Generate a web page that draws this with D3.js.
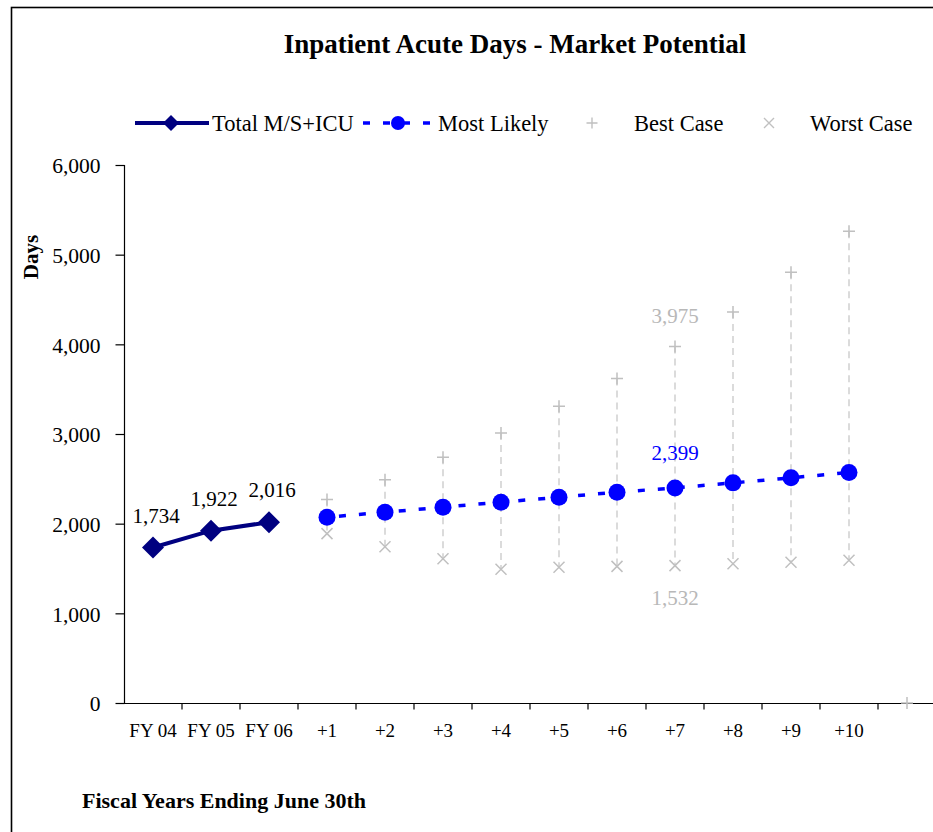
<!DOCTYPE html>
<html>
<head>
<meta charset="utf-8">
<script src="https://cdn.jsdelivr.net/npm/d3@7"></script>
<style>
  html, body { margin: 0; padding: 0; background: #fff; }
  svg { display: block; }
  text { font-family: "Liberation Serif", "Times New Roman", serif; }
</style>
</head>
<body>
<svg id="chart" width="933" height="832"></svg>
<script>
// Inpatient acute days: history plus ten-year projection range
const categories = ["FY 04", "FY 05", "FY 06", "+1", "+2", "+3", "+4", "+5", "+6", "+7", "+8", "+9", "+10", ""];
const totalDays  = [1734, 1922, 2016, null, null, null, null, null, null, null, null, null, null, null];
const mostLikely = [null, null, null, 2072, 2128, 2184, 2240, 2295, 2351, 2399, 2455, 2511, 2571, null];
const bestCase   = [null, null, null, 2270, 2490, 2740, 3010, 3310, 3620, 3975, 4360, 4805, 5260, 0];
const worstCase  = [null, null, null, 1889, 1742, 1609, 1491, 1513, 1524, 1532, 1554, 1569, 1591, null];
const yTicks = [0, 1000, 2000, 3000, 4000, 5000, 6000];

// category indices that carry a value label
const labelledTotal = [0, 1, 2];
const labelledLikely = [9];
const labelledBest = [9];
const labelledWorst = [9];

const NAVY = "#000080", BLUE = "#0000ff", GREY = "#c0c0c0";
const fmt = d3.format(",");

const svg = d3.select("#chart");

// outer frame
svg.append("rect")
  .attr("x", 11.5).attr("y", 7.5)
  .attr("width", 940).attr("height", 840)
  .attr("fill", "none").attr("stroke", "#000").attr("stroke-width", 1.6);

const x = d3.scaleBand().domain(d3.range(categories.length)).range([124, 936]).padding(0);
const y = d3.scaleLinear().domain([0, 6000]).range([703, 165]);
const cx = i => x(i) + x.bandwidth() / 2;

// title
svg.append("text")
  .attr("x", 515).attr("y", 53)
  .attr("text-anchor", "middle")
  .attr("font-size", 27).attr("font-weight", "bold")
  .text("Inpatient Acute Days - Market Potential");

// y axis
const yAxis = svg.append("g")
  .attr("transform", "translate(124.5,0)")
  .call(d3.axisLeft(y).tickValues(yTicks).tickSize(9).tickPadding(15).tickFormat(fmt));
yAxis.selectAll("path, line").attr("stroke", "#000").attr("stroke-width", 1.2);
yAxis.select(".domain").attr("d", `M0,${y(6000)}V${y(0)}`);
yAxis.selectAll("text")
  .attr("font-family", "Liberation Serif, Times New Roman, serif")
  .attr("font-size", 21.5).attr("fill", "#000").attr("dy", "0.36em");

// x axis with ticks on category boundaries
const xAxis = svg.append("g").attr("transform", `translate(0,${y(0) + 0.5})`);
xAxis.append("line")
  .attr("x1", 124).attr("x2", 936).attr("stroke", "#000").attr("stroke-width", 1.2);
xAxis.selectAll("line.tick")
  .data(d3.range(1, categories.length + 1))
  .join("line").attr("class", "tick")
  .attr("x1", i => x(i - 1) + x.bandwidth()).attr("x2", i => x(i - 1) + x.bandwidth())
  .attr("y1", 0).attr("y2", 6)
  .attr("stroke", "#000").attr("stroke-width", 1.2);
xAxis.selectAll("text")
  .data(categories)
  .join("text")
  .attr("x", (d, i) => cx(i)).attr("y", 33)
  .attr("text-anchor", "middle").attr("font-size", 19)
  .text(d => d);

// axis titles
svg.append("text")
  .attr("transform", "translate(38,257) rotate(-90)")
  .attr("text-anchor", "middle").attr("font-size", 21).attr("font-weight", "bold")
  .text("Days");
svg.append("text")
  .attr("x", 82).attr("y", 808)
  .attr("font-size", 22).attr("font-weight", "bold")
  .text("Fiscal Years Ending June 30th");

// high-low lines between best and worst case
const plot = svg.append("g");
plot.selectAll("line.hilo")
  .data(d3.range(categories.length).filter(i => bestCase[i] != null && worstCase[i] != null))
  .join("line").attr("class", "hilo")
  .attr("x1", cx).attr("x2", cx)
  .attr("y1", i => y(bestCase[i])).attr("y2", i => y(worstCase[i]))
  .attr("stroke", "#c8c8c8").attr("stroke-width", 1.3).attr("stroke-dasharray", "7,5");

// marker helpers
const plusPath = s => `M${-s},0H${s}M0,${-s}V${s}`;
const crossPath = s => `M${-s},${-s}L${s},${s}M${-s},${s}L${s},${-s}`;
const diamondPath = s => `M0,${-s}L${s},0L0,${s}L${-s},0Z`;

// best case (+) and worst case (x)
plot.selectAll("path.best")
  .data(d3.range(categories.length).filter(i => bestCase[i] != null))
  .join("path").attr("class", "best")
  .attr("transform", i => `translate(${cx(i)},${y(bestCase[i])})`)
  .attr("d", plusPath(6)).attr("stroke", GREY).attr("stroke-width", 1.5).attr("fill", "none");
plot.selectAll("path.worst")
  .data(d3.range(categories.length).filter(i => worstCase[i] != null))
  .join("path").attr("class", "worst")
  .attr("transform", i => `translate(${cx(i)},${y(worstCase[i])})`)
  .attr("d", crossPath(5.5)).attr("stroke", GREY).attr("stroke-width", 1.5).attr("fill", "none");

// most likely projection
const lineGen = d3.line().defined(i => mostLikely[i] != null).x(cx).y(i => y(mostLikely[i]));
plot.append("path")
  .datum(d3.range(categories.length))
  .attr("d", lineGen)
  .attr("fill", "none").attr("stroke", BLUE).attr("stroke-width", 3.5)
  .attr("stroke-dasharray", "7,13").attr("stroke-dashoffset", -12);
plot.selectAll("circle.likely")
  .data(d3.range(categories.length).filter(i => mostLikely[i] != null))
  .join("circle").attr("class", "likely")
  .attr("cx", cx).attr("cy", i => y(mostLikely[i])).attr("r", 8.5)
  .attr("fill", BLUE);

// historical totals
const totalGen = d3.line().defined(i => totalDays[i] != null).x(cx).y(i => y(totalDays[i]));
plot.append("path")
  .datum(d3.range(categories.length))
  .attr("d", totalGen)
  .attr("fill", "none").attr("stroke", NAVY).attr("stroke-width", 4);
plot.selectAll("path.total")
  .data(d3.range(categories.length).filter(i => totalDays[i] != null))
  .join("path").attr("class", "total")
  .attr("transform", i => `translate(${cx(i)},${y(totalDays[i])})`)
  .attr("d", diamondPath(11)).attr("fill", NAVY);

// data labels
const labels = svg.append("g").attr("font-size", 21).attr("text-anchor", "middle");
labels.selectAll("text.lt").data(labelledTotal).join("text").attr("class", "lt")
  .attr("x", i => cx(i) + 3).attr("y", i => y(totalDays[i]) - 25)
  .attr("fill", "#000").text(i => fmt(totalDays[i]));
labels.selectAll("text.ll").data(labelledLikely).join("text").attr("class", "ll")
  .attr("x", cx).attr("y", i => y(mostLikely[i]) - 28)
  .attr("fill", BLUE).text(i => fmt(mostLikely[i]));
labels.selectAll("text.lb").data(labelledBest).join("text").attr("class", "lb")
  .attr("x", cx).attr("y", i => y(bestCase[i]) - 24)
  .attr("fill", "#b8b8b8").text(i => fmt(bestCase[i]));
labels.selectAll("text.lw").data(labelledWorst).join("text").attr("class", "lw")
  .attr("x", cx).attr("y", i => y(worstCase[i]) + 39)
  .attr("fill", "#b8b8b8").text(i => fmt(worstCase[i]));

// legend
const lg = svg.append("g").attr("transform", "translate(0,123)");
lg.append("line").attr("x1", 135).attr("x2", 209).attr("stroke", NAVY).attr("stroke-width", 4);
lg.append("path").attr("transform", "translate(171,0)").attr("d", diamondPath(8)).attr("fill", NAVY);
lg.append("text").attr("x", 212).attr("y", 7.5).attr("font-size", 22.5).text("Total M/S+ICU");

lg.append("line").attr("x1", 363).attr("x2", 433).attr("stroke", BLUE).attr("stroke-width", 3.5)
  .attr("stroke-dasharray", "7,13");
lg.append("circle").attr("cx", 398).attr("cy", 0).attr("r", 7).attr("fill", BLUE);
lg.append("text").attr("x", 438).attr("y", 7.5).attr("font-size", 22.5).text("Most Likely");

lg.append("path").attr("transform", "translate(592,0)").attr("d", plusPath(5.5))
  .attr("stroke", GREY).attr("stroke-width", 1.4).attr("fill", "none");
lg.append("text").attr("x", 634).attr("y", 7.5).attr("font-size", 22.5).text("Best Case");

lg.append("path").attr("transform", "translate(769,0)").attr("d", crossPath(5))
  .attr("stroke", GREY).attr("stroke-width", 1.4).attr("fill", "none");
lg.append("text").attr("x", 810).attr("y", 7.5).attr("font-size", 22.5).text("Worst Case");
</script>
</body>
</html>
